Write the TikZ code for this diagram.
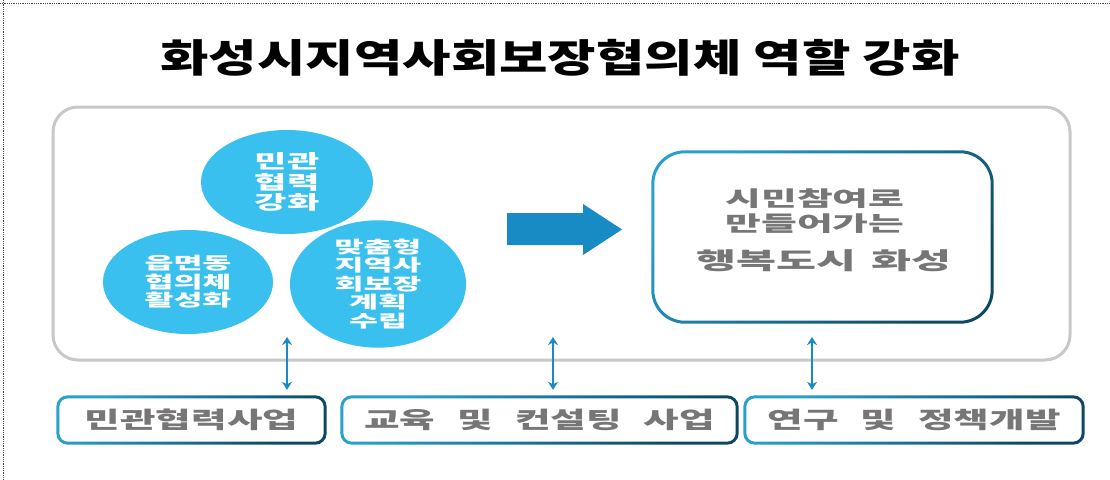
\documentclass[tikz,border=0pt]{standalone}
\usepackage{fontspec}
\usetikzlibrary{shapes.geometric,arrows.meta,calc}
\newfontfamily\krA[FakeStretch=1.35]{Noto Sans CJK KR}
\newfontfamily\krB[FakeStretch=1.68,WordSpace=2.5]{Noto Sans CJK KR}
\newfontfamily\krC[FakeStretch=1.85,WordSpace=1.6]{Noto Sans CJK KR}
\definecolor{circblue}{RGB}{58,192,238}
\definecolor{arrblue}{RGB}{24,138,196}
\definecolor{lightb}{RGB}{40,160,205}
\definecolor{darkb}{RGB}{12,72,100}
\definecolor{outgray}{RGB}{200,200,200}
\definecolor{txtgray}{RGB}{118,118,118}
\tikzset{
  circ/.style={ellipse, fill=circblue, inner sep=0pt, text=white, align=center,
    font=\krC\bfseries\fontsize{17}{18.5}\selectfont},
  botbox/.style={minimum height=46pt, inner sep=0pt, text=txtgray,
    font=\krB\bfseries\fontsize{23}{28}\selectfont},
  ring/.style={even odd rule, top color=lightb, bottom color=darkb, shading angle=45},
  dblarrow/.style={draw=arrblue, line width=2pt, {Stealth[length=8pt,width=10pt]}-{Stealth[length=8pt,width=10pt]}},
}
\newcommand{\gradring}[2]{%
  \shade[ring] [rounded corners={#2+1.5pt}] ($(#1.north west)+(-1.5,-1.5)$) rectangle ($(#1.south east)+(1.5,1.5)$)
    [rounded corners={#2-1.5pt}] ($(#1.north west)+(1.5,1.5)$) rectangle ($(#1.south east)+(-1.5,-1.5)$);}
\begin{document}
\begin{tikzpicture}[x=1pt,y=-1pt]
\useasboundingbox (0,0) rectangle (1110,479);
\fill[white] (0,0) rectangle (1110,479);
% dotted frame
\draw[black!70, densely dotted, line width=0.8pt] (0,3) -- (1110,3);
\draw[black!70, densely dotted, line width=0.8pt] (3,0) -- (3,479);
% title
\node[font=\krA\bfseries\fontsize{39}{46}\selectfont, text=black] (title) at (560,58) {화성시지역사회보장협의체 역할 강화};
% outer box
\node[draw=outgray, line width=3pt, rounded corners=25pt, minimum width=1017pt, minimum height=253pt, inner sep=0pt] (outer) at (561.5,233.5) {};
% circles
\node[circ, minimum width=172pt, minimum height=104pt, font=\krC\bfseries\fontsize{19}{20.5}\selectfont] (c1) at (287,182) {민관\\협력\\강화};
\node[circ, minimum width=170pt, minimum height=104pt] (c2) at (188,282) {읍면동\\협의체\\활성화};
\node[circ, minimum width=176pt, minimum height=112pt] (c3) at (378,284) {맞춤형\\지역사\\회보장\\계획\\수립};
% big arrow
\fill[arrblue] (507,213) -- (583,213) -- (583,204) -- (622,229.5) -- (583,255) -- (583,245) -- (507,245) -- cycle;
% result box
\node[minimum width=339pt, minimum height=170pt, inner sep=0pt] (res) at (822.5,237) {};
\gradring{res}{32pt}
\node[text=txtgray, font=\krC\bfseries\fontsize{21}{24.5}\selectfont, align=center] (r1) at (815,211) {시민참여로\\만들어가는};
\node[text=txtgray, font=\krC\bfseries\fontsize{23.5}{28}\selectfont] (r2) at (824,261) {행복도시 화성};
% bottom boxes
\node[botbox, minimum width=267pt] (b1) at (191.5,420) {민관협력사업};
\node[botbox, minimum width=395pt] (b2) at (539.5,420) {교육 및 컨설팅 사업};
\node[botbox, minimum width=338pt] (b3) at (914,420) {연구 및 정책개발};
\gradring{b1}{10pt}
\gradring{b2}{10pt}
\gradring{b3}{10pt}
% double arrows
\coordinate (t1) at (287,337);
\coordinate (t2) at (553,337);
\coordinate (t3) at (812,337);
\draw[dblarrow, shorten >=7pt] (t1) -- (b1.north -| t1);
\draw[dblarrow, shorten >=7pt] (t2) -- (b2.north -| t2);
\draw[dblarrow, shorten >=7pt] (t3) -- (b3.north -| t3);
\end{tikzpicture}
\end{document}
